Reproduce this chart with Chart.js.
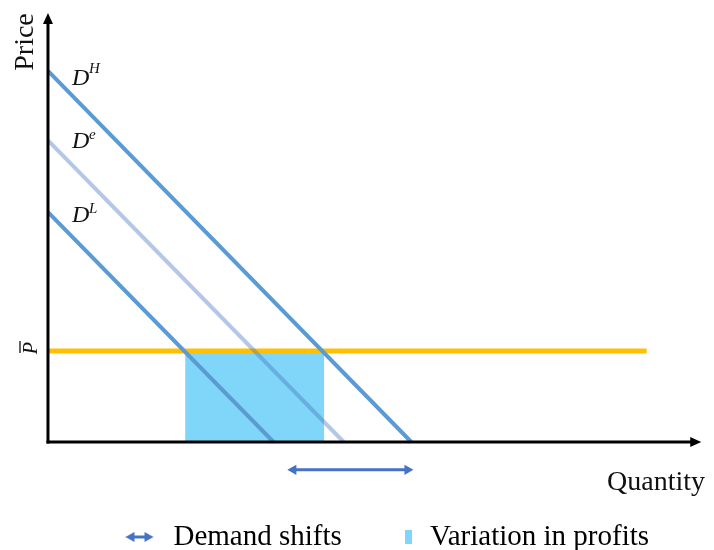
<!DOCTYPE html>
<html><head><meta charset="utf-8">
<script src="https://cdn.jsdelivr.net/npm/chart.js@4"></script>
<style>html,body{margin:0;padding:0;background:#fff;}</style>
</head><body>
<canvas id="c" width="714" height="550"></canvas>
<script>
// ---- data (price / quantity units) ----
const demandHigh = [{x:0, y:8.65}, {x:5.59, y:0}];
const demandExpected = [{x:0, y:7.03}, {x:4.55, y:0}];
const demandLow = [{x:0, y:5.36}, {x:3.47, y:0}];
const priceBar = [{x:0, y:2.12}, {x:9.21, y:2.12}];
const profitArea = [{x:2.11, y:2.12}, {x:4.25, y:2.12}];
const demandShift = [3.775, 5.53];
const shiftLevel = -0.65;
const demandLabels = [['D','H'], ['D','e'], ['D','L']];
const legendLabels = ['Demand shifts', 'Variation in profits'];
const axisTitles = ['Quantity', 'Price'];
const priceLabel = 'P';

const BLUE = '#5B9BD5', DARKBLUE = '#4472C4', CYAN = 'rgb(128,214,248)', GOLD = '#FFC000';
const SERIF = '"Liberation Serif", serif';

function arrowIcon(){
  const c = document.createElement('canvas'); c.width = 41; c.height = 12;
  const g = c.getContext('2d'); g.strokeStyle = g.fillStyle = DARKBLUE; g.lineWidth = 3;
  g.beginPath(); g.moveTo(7,6); g.lineTo(21,6); g.stroke();
  g.beginPath(); g.moveTo(0,6); g.lineTo(9,1); g.lineTo(9,11); g.closePath(); g.fill();
  g.beginPath(); g.moveTo(28,6); g.lineTo(19,1); g.lineTo(19,11); g.closePath(); g.fill();
  return c;
}
function rectIcon(){
  const c = document.createElement('canvas'); c.width = 21; c.height = 14;
  const g = c.getContext('2d'); g.fillStyle = CYAN; g.fillRect(13,0,7,14); return c;
}

const annot = {
  id: 'annot',
  afterDatasetsDraw(chart){
    const {ctx, scales:{x, y}} = chart;
    const x0 = x.getPixelForValue(0), y0 = y.getPixelForValue(0);
    const yTop = y.getPixelForValue(10), xEnd = x.getPixelForValue(10.05);
    ctx.save();
    ctx.strokeStyle = '#000'; ctx.fillStyle = '#000'; ctx.lineWidth = 3;
    ctx.beginPath(); ctx.moveTo(x0, y0 + 1.5); ctx.lineTo(x0, yTop + 8); ctx.stroke();
    ctx.beginPath(); ctx.moveTo(x0 - 1.5, y0); ctx.lineTo(xEnd - 8, y0); ctx.stroke();
    ctx.beginPath(); ctx.moveTo(x0, yTop); ctx.lineTo(x0 - 5, yTop + 11); ctx.lineTo(x0 + 5, yTop + 11); ctx.closePath(); ctx.fill();
    ctx.beginPath(); ctx.moveTo(xEnd, y0); ctx.lineTo(xEnd - 11, y0 - 5); ctx.lineTo(xEnd - 11, y0 + 5); ctx.closePath(); ctx.fill();

    // axis titles
    ctx.fillStyle = '#111';
    ctx.font = '28px ' + SERIF; ctx.textBaseline = 'alphabetic';
    ctx.textAlign = 'left'; ctx.fillText(axisTitles[0], 607, 490);
    ctx.save(); ctx.translate(33, 42); ctx.rotate(-Math.PI/2); ctx.textAlign = 'center';
    ctx.fillText(axisTitles[1], 0, 0); ctx.restore();

    // P bar label
    const py = y.getPixelForValue(priceBar[0].y);
    ctx.save(); ctx.translate(37, py - 3); ctx.rotate(-Math.PI/2);
    ctx.font = 'italic 20px ' + SERIF; ctx.textAlign = 'center';
    ctx.fillText(priceLabel, 0, 0);
    ctx.lineWidth = 1.3; ctx.strokeStyle = '#111';
    ctx.beginPath(); ctx.moveTo(-5, -17); ctx.lineTo(7, -17); ctx.stroke();
    ctx.restore();

    // demand labels
    const base = [[85, 73], [148, 139], [222, 213]];
    demandLabels.forEach((lab, i) => {
      ctx.textAlign = 'left';
      ctx.font = 'italic 24px ' + SERIF; ctx.fillText(lab[0], x0 + 24, base[i][0]);
      ctx.font = 'italic 15px ' + SERIF; ctx.fillText(lab[1], x0 + 41, base[i][1]);
    });
    ctx.restore();
  }
};

const line = (data, color, width, order) => ({
  data, showLine: true, borderColor: color, backgroundColor: color, borderWidth: width,
  pointRadius: 0, fill: false, order, borderCapStyle: 'butt', clip: false
});

new Chart(document.getElementById('c'), {
  type: 'scatter',
  data: { datasets: [
    line(demandHigh, BLUE, 4, 1),
    line(demandExpected, 'rgba(68,114,196,0.4)', 4, 1),
    line(demandLow, BLUE, 4, 1),
    line(priceBar, GOLD, 5, 2),
    { data: profitArea, showLine: true, borderWidth: 0, borderColor: 'rgba(0,0,0,0)',
      backgroundColor: CYAN, fill: 'origin', pointRadius: 0, order: 5 },
    { data: demandShift.map(q => ({x: q, y: shiftLevel})), showLine: true,
      borderColor: DARKBLUE, backgroundColor: DARKBLUE, borderWidth: 3, clip: false,
      pointStyle: 'triangle', pointRadius: 6, pointRotation: [-90, 90], pointBorderWidth: 0,
      pointBackgroundColor: DARKBLUE, order: 0 }
  ]},
  options: {
    responsive: false, animation: false, events: [],
    layout: { padding: { left: 68, right: 0, top: 13, bottom: -11.5 } },
    scales: {
      x: { type: 'linear', display: false, min: 0.308, max: 10.154 },
      y: { type: 'linear', display: false, min: -0.765, max: 10 }
    },
    plugins: {
      tooltip: { enabled: false },
      legend: {
        position: 'bottom',
        labels: {
          usePointStyle: true, pointStyleWidth: 26, padding: 47.7, color: '#111',
          font: { family: SERIF, size: 29 },
          generateLabels: () => [
            { text: legendLabels[0], pointStyle: arrowIcon(), fillStyle: DARKBLUE, strokeStyle: DARKBLUE, lineWidth: 0, hidden: false, datasetIndex: 5 },
            { text: legendLabels[1], pointStyle: rectIcon(), fillStyle: CYAN, strokeStyle: CYAN, lineWidth: 0, hidden: false, datasetIndex: 4 }
          ]
        }
      }
    }
  },
  plugins: [annot]
});
</script>
</body></html>
